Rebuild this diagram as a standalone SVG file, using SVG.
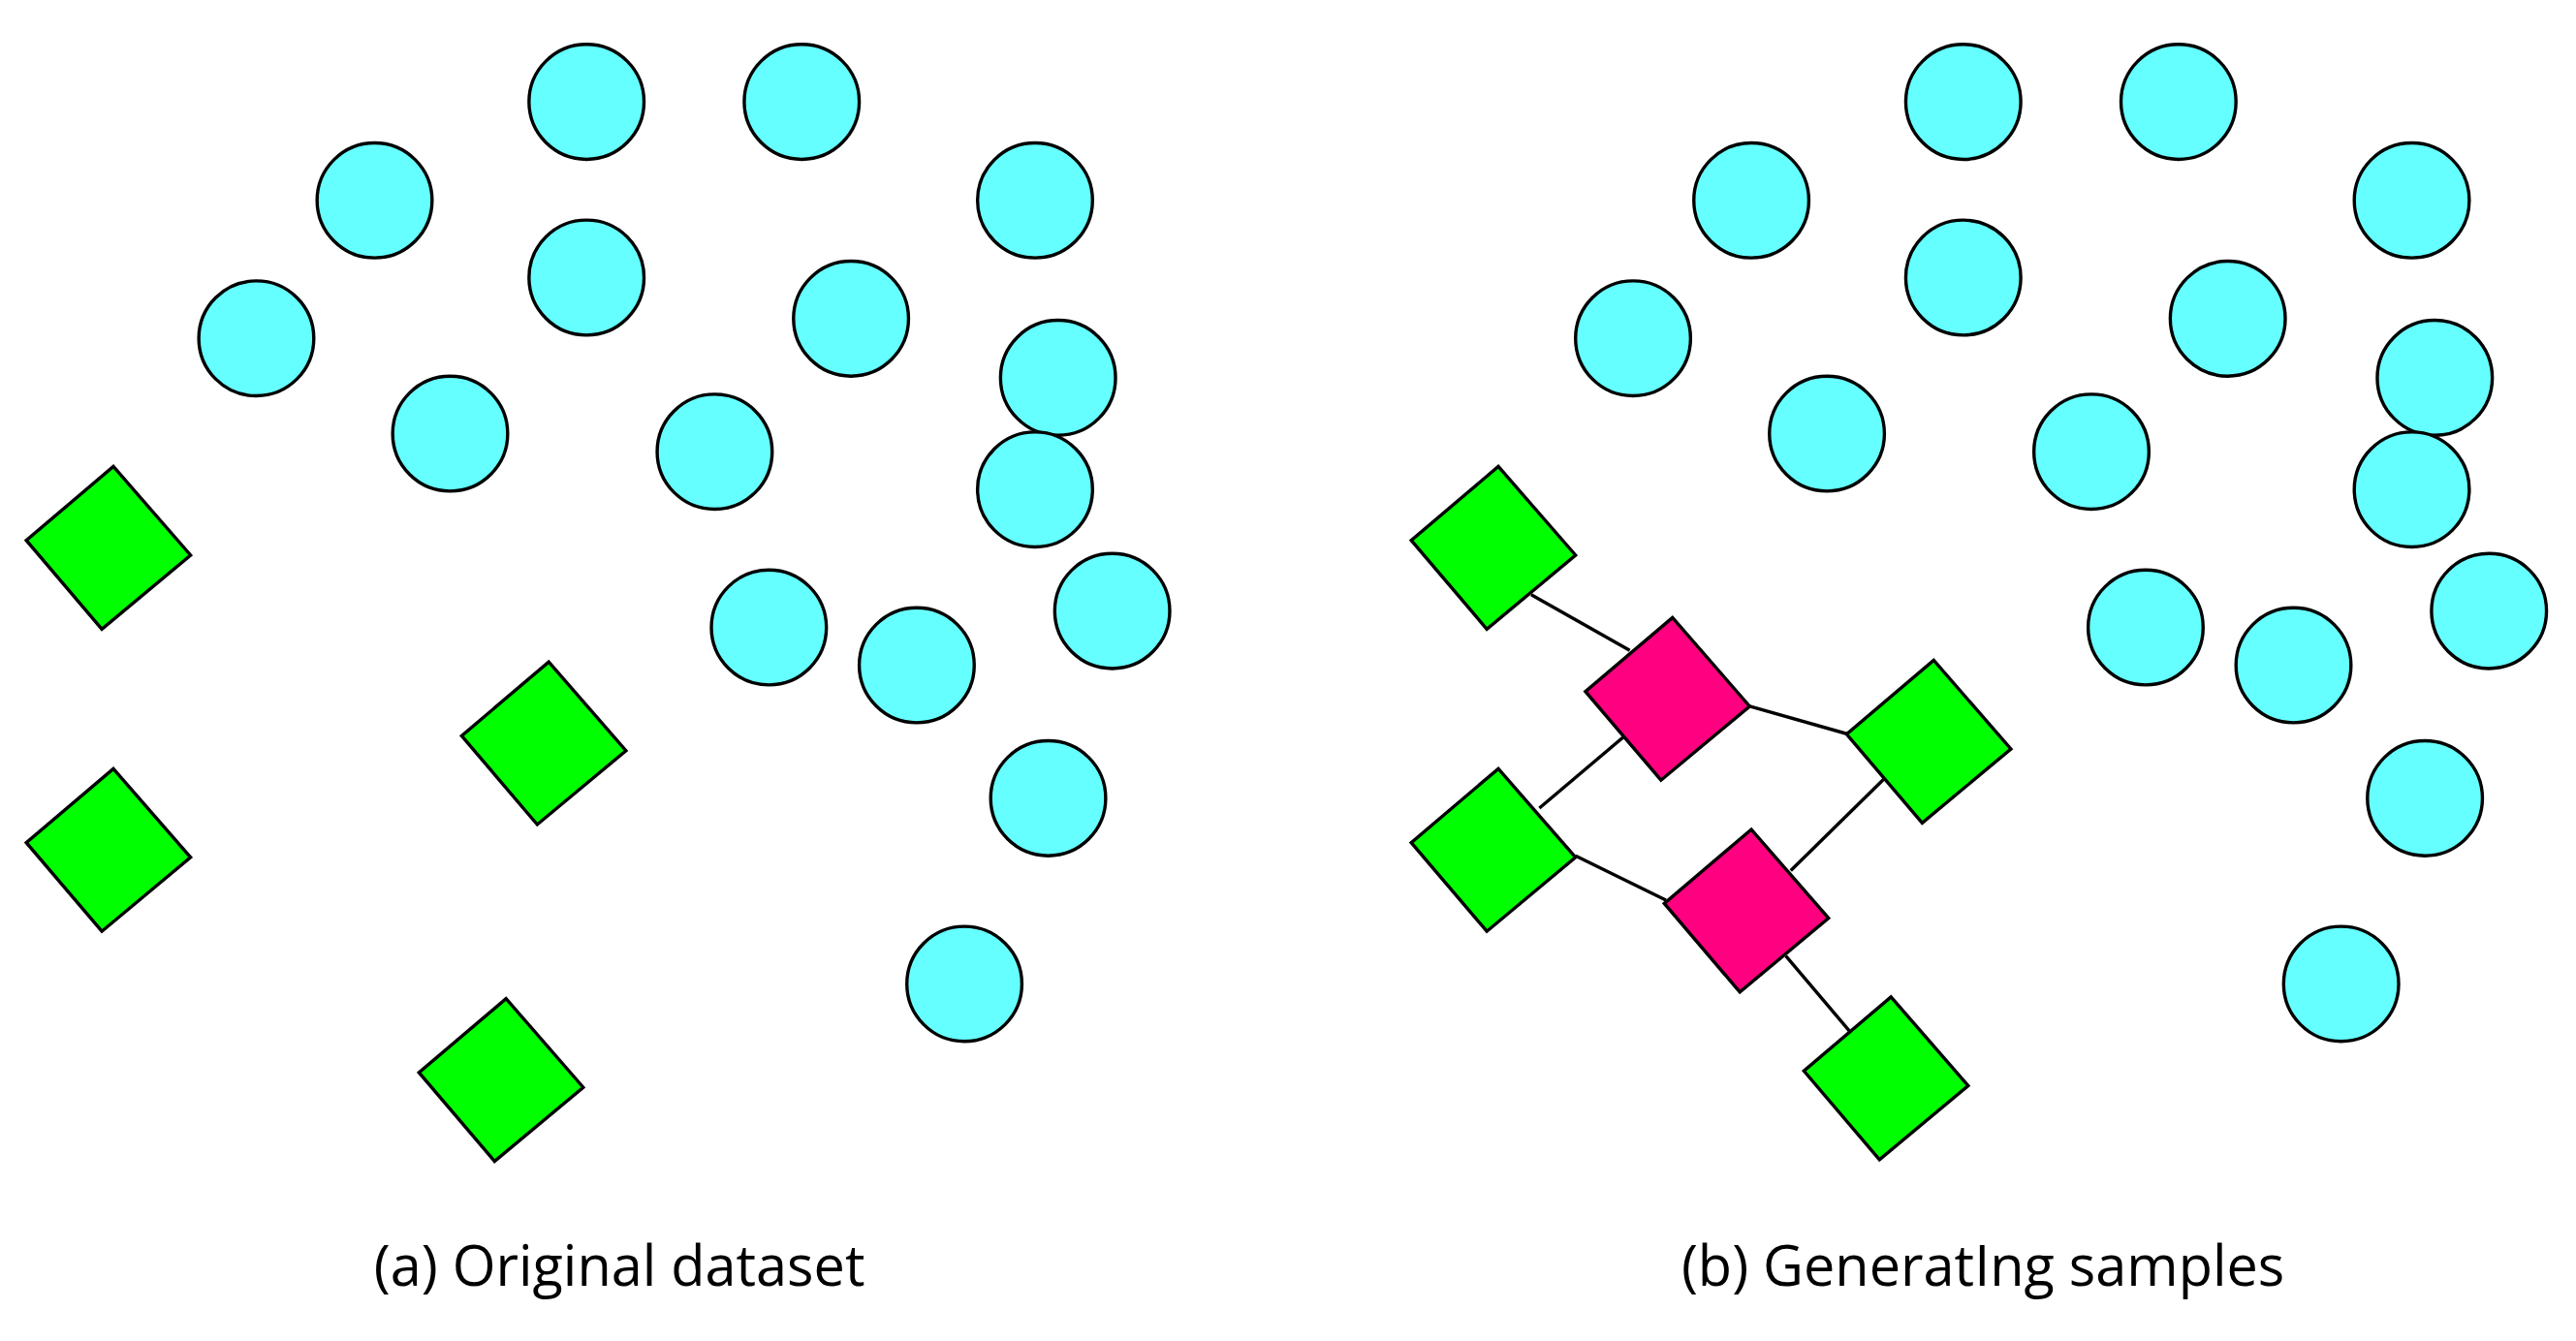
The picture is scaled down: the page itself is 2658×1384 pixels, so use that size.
<svg xmlns="http://www.w3.org/2000/svg" width="2658" height="1384" viewBox="0 0 2658 1384">
<style>
.c{fill:#66ffff;stroke:#000;stroke-width:2}
.g{fill:#00ff00;stroke:#000;stroke-width:2;stroke-linejoin:miter}
.p{fill:#ff0080;stroke:#000;stroke-width:2}
.e{stroke:#000;stroke-width:2;fill:none}
.t{font-family:"Open Sans","Noto Sans",sans-serif;font-size:34px;fill:#000;text-anchor:middle}
</style>
<defs>
<circle id="ci" r="35" class="c"/>
<polygon id="dg" points="3,-49 50,5 -4,50 -50,-4" class="g"/>
<polygon id="dp" points="3,-49 50,5 -4,50 -50,-4" class="p"/>
</defs>
<rect width="2658" height="1384" fill="#fff"/>
<g transform="scale(1.6952)">
<g id="panel-a">
<use href="#ci" x="357" y="62"/><use href="#ci" x="488" y="62"/><use href="#ci" x="228" y="122"/><use href="#ci" x="630" y="122"/>
<use href="#ci" x="357" y="169"/><use href="#ci" x="518" y="194"/><use href="#ci" x="156" y="206"/><use href="#ci" x="644" y="230"/>
<use href="#ci" x="274" y="264"/><use href="#ci" x="435" y="275"/><use href="#ci" x="630" y="298"/><use href="#ci" x="677" y="372"/>
<use href="#ci" x="468" y="382"/><use href="#ci" x="558" y="405"/><use href="#ci" x="638" y="486"/><use href="#ci" x="587" y="599"/>
<use href="#dg" x="66" y="333"/><use href="#dg" x="331" y="452"/><use href="#dg" x="66" y="517"/><use href="#dg" x="305" y="657"/>
<text class="t" x="377" y="783">(a) Original dataset</text>
</g>
<g id="connectors">
<line class="e" x1="932" y1="362" x2="992" y2="396"/>
<line class="e" x1="1065" y1="430" x2="1125" y2="447"/>
<line class="e" x1="937" y1="492" x2="989" y2="448"/>
<line class="e" x1="959" y1="521" x2="1014" y2="548"/>
<line class="e" x1="1090" y1="530" x2="1147" y2="474"/>
<line class="e" x1="1087" y1="582" x2="1126" y2="628"/>
</g>
<g id="panel-b">
<use href="#ci" x="1195" y="62"/><use href="#ci" x="1326" y="62"/><use href="#ci" x="1066" y="122"/><use href="#ci" x="1468" y="122"/>
<use href="#ci" x="1195" y="169"/><use href="#ci" x="1356" y="194"/><use href="#ci" x="994" y="206"/><use href="#ci" x="1482" y="230"/>
<use href="#ci" x="1112" y="264"/><use href="#ci" x="1273" y="275"/><use href="#ci" x="1468" y="298"/><use href="#ci" x="1515" y="372"/>
<use href="#ci" x="1306" y="382"/><use href="#ci" x="1396" y="405"/><use href="#ci" x="1476" y="486"/><use href="#ci" x="1425" y="599"/>
<use href="#dg" x="909" y="333"/><use href="#dg" x="1174" y="451"/><use href="#dg" x="909" y="517"/><use href="#dg" x="1148" y="656"/>
<use href="#dp" x="1015" y="425"/><use href="#dp" x="1063" y="554"/>
<text class="t" x="1207" y="783">(b) GeneratIng samples</text>
</g>
</g>
</svg>
